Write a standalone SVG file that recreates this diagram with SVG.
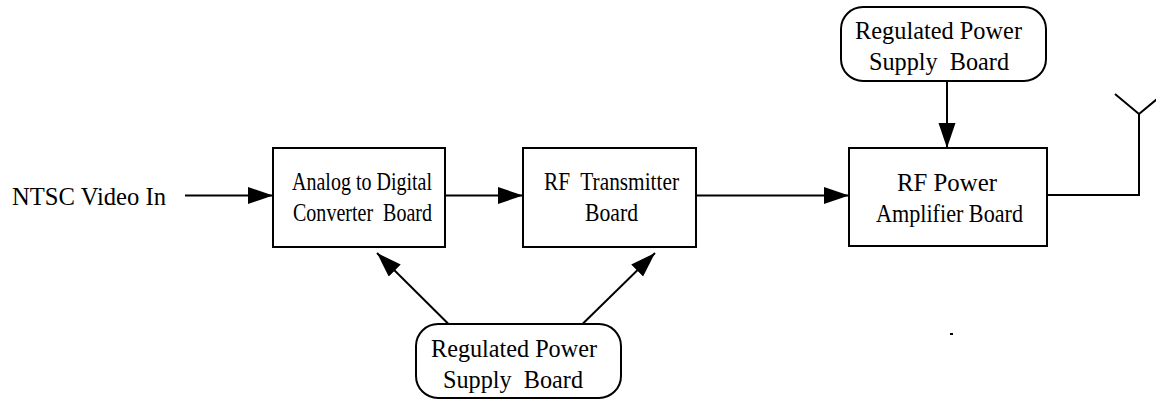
<svg xmlns="http://www.w3.org/2000/svg" width="1156" height="401" viewBox="0 0 1156 401">
<style>
.box{fill:#fff;stroke:#000;stroke-width:2}
.ln{fill:none;stroke:#000;stroke-width:2}
text{font-family:"Liberation Serif","Times New Roman",serif;font-size:25px;fill:#000}
</style>
<defs>
<marker id="ah" markerUnits="userSpaceOnUse" markerWidth="26" markerHeight="18" refX="25" refY="8.5" orient="auto">
<path d="M0,0 L25,8.5 L0,17 Z" fill="#000"/>
</marker>
</defs>
<rect width="1156" height="401" fill="#fff"/>
<g id="connectors">
<path class="ln" d="M185,195.5 H273" marker-end="url(#ah)"/>
<path class="ln" d="M445,195.5 H523" marker-end="url(#ah)"/>
<path class="ln" d="M696,195.5 H849" marker-end="url(#ah)"/>
<path class="ln" d="M947,81 V148" marker-end="url(#ah)"/>
<path class="ln" d="M448,323.5 L377,253" marker-end="url(#ah)"/>
<path class="ln" d="M583,323.5 L655,253" marker-end="url(#ah)"/>
<path class="ln" d="M1047,195 H1139 V113"/>
<path class="ln" d="M1115,94 L1139,114 L1163,94"/>
</g>
<g id="input">
<text x="12" y="205" textLength="154" lengthAdjust="spacingAndGlyphs">NTSC Video In</text>
</g>
<g id="adc">
<rect class="box" x="273" y="148" width="172" height="99"/>
<text x="292" y="190" textLength="140" lengthAdjust="spacingAndGlyphs">Analog to Digital</text>
<text x="293" y="221" textLength="139" lengthAdjust="spacingAndGlyphs" xml:space="preserve">Converter  Board</text>
</g>
<g id="rftx">
<rect class="box" x="523" y="148" width="173" height="99"/>
<text x="544" y="190" textLength="135" lengthAdjust="spacingAndGlyphs" xml:space="preserve">RF  Transmitter</text>
<text x="585" y="221" textLength="53" lengthAdjust="spacingAndGlyphs">Board</text>
</g>
<g id="rfpa">
<rect class="box" x="849" y="148" width="198" height="98"/>
<text x="897" y="190.5" textLength="100" lengthAdjust="spacingAndGlyphs">RF Power</text>
<text x="876" y="221.5" textLength="147" lengthAdjust="spacingAndGlyphs">Amplifier Board</text>
</g>
<g id="psu-top">
<rect class="box" x="841" y="7" width="205" height="74" rx="22" ry="22"/>
<text x="855" y="39" textLength="167" lengthAdjust="spacingAndGlyphs">Regulated Power</text>
<text x="869" y="70" textLength="140" lengthAdjust="spacingAndGlyphs" xml:space="preserve">Supply  Board</text>
</g>
<g id="psu-bottom">
<rect class="box" x="416" y="324" width="205" height="74" rx="22" ry="22"/>
<text x="431" y="356.5" textLength="166" lengthAdjust="spacingAndGlyphs">Regulated Power</text>
<text x="443" y="388" textLength="140" lengthAdjust="spacingAndGlyphs" xml:space="preserve">Supply  Board</text>
</g>
<rect x="950" y="333" width="3" height="2" fill="#000"/>
</svg>
